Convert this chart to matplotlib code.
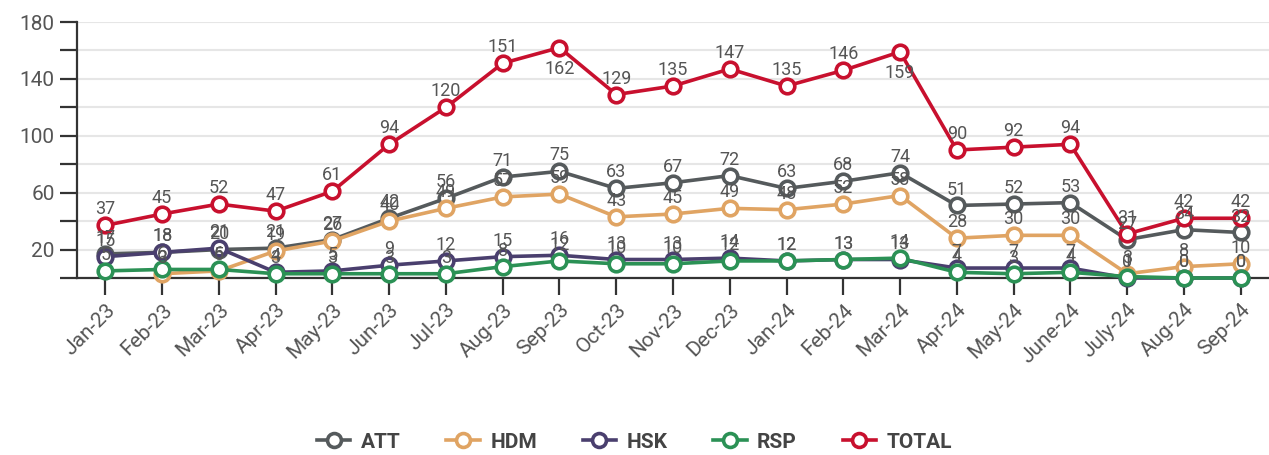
import numpy as np
import matplotlib
matplotlib.use("Agg")
import matplotlib.pyplot as plt
from matplotlib.lines import Line2D

months = ["Jan-23", "Feb-23", "Mar-23", "Apr-23", "May-23", "Jun-23", "Jul-23",
          "Aug-23", "Sep-23", "Oct-23", "Nov-23", "Dec-23", "Jan-24", "Feb-24",
          "Mar-24", "Apr-24", "May-24", "June-24", "July-24", "Aug-24", "Sep-24"]
att = [17, 18, 20, 21, 27, 42, 56, 71, 75, 63, 67, 72, 63, 68, 74, 51, 52, 53, 27, 34, 32]
hdm = [np.nan, 3, 5, 19, 26, 40, 49, 57, 59, 43, 45, 49, 48, 52, 58, 28, 30, 30, 3, 8, 10]
hsk = [15, 18, 21, 4, 5, 9, 12, 15, 16, 13, 13, 14, 12, 13, 13, 7, 7, 7, 0, 0, 0]
rsp = [5, 6, 6, 3, 3, 3, 3, 8, 12, 10, 10, 12, 12, 13, 14, 4, 3, 4, 1, 0, 0]
total = [37, 45, 52, 47, 61, 94, 120, 151, 162, 129, 135, 147, 135, 146, 159, 90, 92, 94, 31, 42, 42]

series = [("ATT", att, "#555a5c"), ("HDM", hdm, "#e0a463"), ("HSK", hsk, "#4a3f6e"),
          ("RSP", rsp, "#2b9155"), ("TOTAL", total, "#c8102e")]

plt.rcParams['font.family'] = ['Roboto', 'DejaVu Sans']
fig = plt.figure(figsize=(12.69, 4.55), dpi=100)
ax = fig.add_axes([77/1269, 1-278/455, 1-77/1269, (278-22)/455])

x = np.arange(len(months))
for name, vals, col in series:
    ax.plot(x, vals, color=col, lw=2.6, marker='o', ms=10.5, mfc='white',
            mec=col, mew=2.6, zorder=3, clip_on=False)

label_col = "#555555"
for name, vals, col in series:
    for xi, v in zip(x, vals):
        if v is None or (isinstance(v, float) and np.isnan(v)):
            continue
        if v > 155:
            ax.annotate(str(int(v)), (xi, v), xytext=(0, -9), textcoords='offset points',
                        ha='center', va='top', fontsize=13, color=label_col, zorder=5)
        else:
            ax.annotate(str(int(v)), (xi, v), xytext=(0, 5), textcoords='offset points',
                        ha='center', va='bottom', fontsize=13, color=label_col, zorder=5)

ax.set_xlim(-0.5, 20.5)
ax.set_ylim(0, 180)
ax.set_yticks(np.arange(0, 181, 20))
ax.set_yticklabels(["" if (t // 20) % 2 == 0 else str(t) for t in range(0, 181, 20)])
ax.set_xticks(x)
ax.set_xticklabels(months, rotation=45, ha='right', va='top', rotation_mode='anchor')
ax.tick_params(axis='both', length=12, width=1.6, color='#333333', labelcolor='#555555',
               labelsize=15)
ax.tick_params(axis='y', pad=4)
ax.tick_params(axis='x', pad=4)
ax.grid(axis='y', color='#e6e6e6', lw=1.5, zorder=0)
for s in ['top', 'right']:
    ax.spines[s].set_visible(False)
for s in ['left', 'bottom']:
    ax.spines[s].set_color('#333333')
    ax.spines[s].set_linewidth(1.6)

handles = [Line2D([0], [0], color=col, lw=2.6, marker='o', ms=10, mfc='white', mec=col, mew=2.6)
           for _, _, col in series]
leg = fig.legend(handles, [s[0] for s in series], loc='center', bbox_to_anchor=(0.5, 1-442/455),
                 ncol=5, frameon=False, handlelength=1.6, columnspacing=2.2, handletextpad=0.5,
                 prop={'weight': 'bold', 'size': 15})
for t in leg.get_texts():
    t.set_color('#444444')

fig.savefig("out.png", dpi=100)
